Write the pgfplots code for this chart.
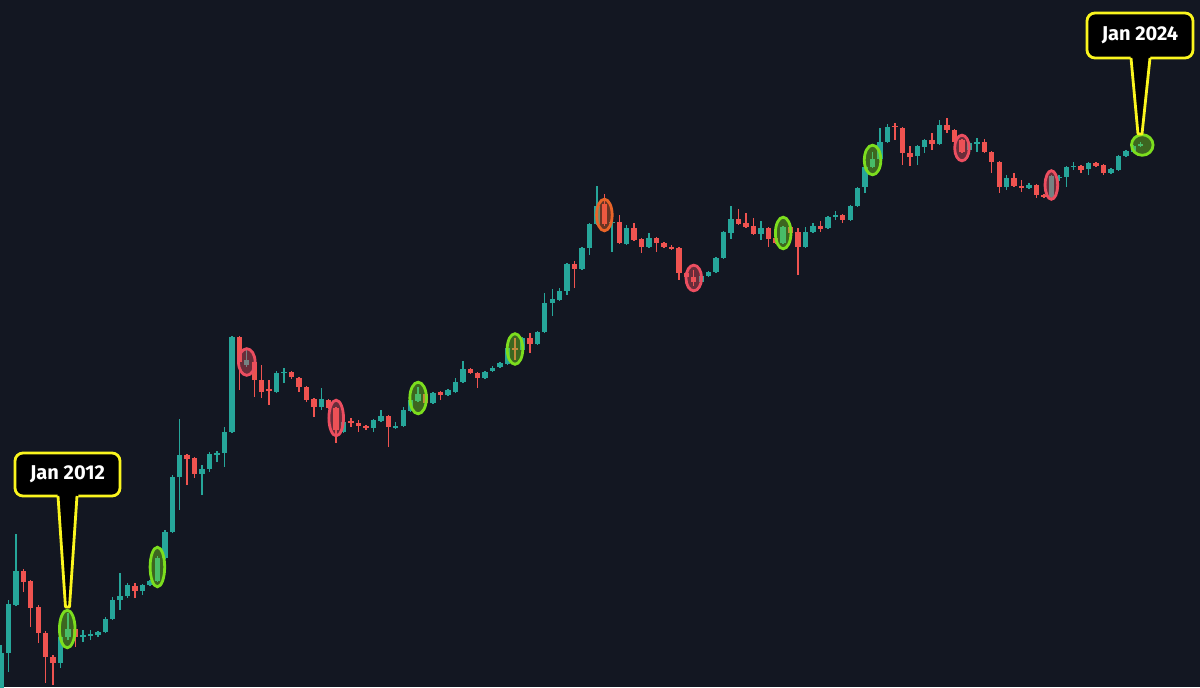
\documentclass[border=0pt]{standalone}
\usepackage{pgfplots}
\pgfplotsset{compat=1.18}
\usepackage{pgfplotstable}
\usepackage{fontspec}
\setmainfont{Fira Sans}
\definecolor{bgc}{HTML}{131722}
\definecolor{upc}{HTML}{26A69A}
\definecolor{dnc}{HTML}{EF5350}
\definecolor{gcol}{RGB}{124,222,30}
\definecolor{rcol}{RGB}{236,78,96}
\definecolor{ocol}{RGB}{232,100,40}
\definecolor{ycol}{RGB}{250,245,30}

\pgfdeclareplotmark{ell}{%
  \pgfpathellipse{\pgfpointorigin}{\pgfpoint{\ew pt}{0pt}}{\pgfpoint{0pt}{\eh pt}}%
  \pgfusepathqfillstroke}

% month index (0 = Jan 2012), open, high, low, close
\pgfplotstableread{
i o h l c
-9 -13 42 -13 34
-8 34 87 15 83
-7 82 153 81 116
-1 24 52 19 50
0 50 74 47 58
2 50 57 45 52
3 51 57 47 53
4 52 56 50 55
5 55 70 54 68
6 68 90 67 87
7 87 114 77 91
8 91 104 89 102
10 96 103 92 102
11 102 107 101 106
12 106 131 105 129
13 129 157 128 155
14 155 212 154 210
15 210 268 177 232
18 213 222 192 218
19 218 235 215 233
20 232 236 225 234
21 234 260 220 255
22 255 351 254 350
24 322 339 320 327
28 295 316 294 314
29 314 319 304 315
34 280 299 277 288
37 255 266 254 265
41 259 268 255 267
42 266 277 265 271
44 259 265 258 261
45 261 280 260 277
46 276 288 275 287
47 286 300 285 293
49 284 295 283 294
51 292 298 291 297
52 295 309 294 305
53 305 326 304 318
56 309 316 308 315
57 316 321 315 319
58 320 325 319 324
59 323 341 322 339
61 337 350 336 349
63 343 356 342 355
64 355 394 354 384
65 384 398 371 388
66 387 399 386 396
67 396 424 392 423
69 418 440 417 439
70 439 464 432 463
71 463 501 462 481
73 464 467 435 465
75 443 462 442 459
78 440 454 439 449
85 405 412 404 411
86 411 416 410 415
87 415 430 414 429
88 429 456 428 455
89 454 481 448 468
93 453 466 447 459
96 444 461 443 460
99 440 460 439 455
100 455 464 454 461
102 459 471 458 470
103 470 476 467 472
105 467 482 466 481
106 481 500 480 499
107 500 521 494 520
108 520 535 519 528
109 528 559 527 545
110 545 563 544 560
114 531 542 522 541
115 540 548 534 547
117 543 567 542 562
121 537 545 536 544
122 543 549 535 545
126 500 512 497 509
129 499 504 498 502
132 490 512 489 511
133 509 512 506 510
134 510 521 500 520
135 520 525 517 521
137 518 525 512 524
140 514 519 513 518
141 517 532 516 531
142 531 537 530 536
143 535 542 534 541
144 541 545 540 543
}\upData

\pgfplotstableread{
i o h l c
-6 116 118 95 105
-5 106 107 60 79
-4 80 82 44 54
-3 54 56 4 30
-2 30 32 2 24
1 58 60 40 50
9 101 104 89 96
16 232 233 202 228
17 229 230 209 213
23 350 351 297 325
25 325 326 290 307
26 307 322 289 295
27 298 307 282 296
30 315 316 308 310
31 309 310 295 300
32 300 301 285 287
33 288 289 270 280
35 287 288 278 279
36 279 280 244 257
38 266 269 260 264
39 264 267 255 261
40 261 262 257 259
43 271 272 240 260
48 293 294 283 284
50 295 296 287 292
54 318 319 313 314
55 314 315 299 309
60 339 349 327 337
62 349 354 334 343
68 423 426 399 418
72 483 493 461 463
74 465 472 443 444
76 459 464 446 447
77 448 449 434 440
79 449 450 435 444
80 444 445 439 440
81 440 442 437 438
82 439 440 407 414
83 414 415 408 410
84 410 417 401 405
90 468 478 462 463
91 464 474 459 460
92 461 469 452 453
94 459 460 440 448
95 449 450 443 444
97 460 461 453 454
98 455 459 412 440
101 461 466 455 458
104 472 473 464 467
111 561 564 547 560
112 559 560 522 534
113 534 541 521 530
116 547 554 537 543
118 562 569 554 557
119 557 558 544 545
120 547 548 534 535
123 545 548 534 535
124 535 536 514 525
125 525 526 494 500
127 509 514 500 501
128 501 507 495 499
130 502 503 489 492
131 492 493 489 490
136 521 522 514 517
138 524 525 520 521
139 522 523 512 514
}\dnData

% highlighted January candles: index, centre, half-width, half-height (pt)
\pgfplotstableread{
i v rx ry
-0.1 58 3.9 9.4
12 120 3.65 9.9
47 289 4.15 7.9
60 338 3.9 7.65
96 454 3.9 7.9
108 527 4.15 7.4
144.2 542 5.4 5.15
}\greenEll
\pgfplotstableread{
i v rx ry
24 325 4.15 6.65
36 269 3.65 8.9
84 409 3.9 6.4
120 539 3.65 6.4
132 502 3.15 7.15
}\redEll
\pgfplotstableread{
i v rx ry
72 472 3.9 7.9
}\orangeEll

\pgfplotsset{
  wick/.style={draw=none, mark=none, forget plot,
    error bars/.cd, y dir=plus, y explicit, error mark=none,
    error bar style={draw=#1, line width=0.7pt}},
  body/.style={draw=none, mark=none, forget plot,
    error bars/.cd, y dir=plus, y explicit, error mark=none,
    error bar style={draw=#1, line width=2.7pt}},
  hl/.style={scatter, only marks, mark=ell, forget plot,
    visualization depends on={\thisrow{rx} \as \ew},
    visualization depends on={\thisrow{ry} \as \eh},
    scatter/use mapped color={draw=#1, fill=#1, fill opacity=0.4},
    mark options={line width=1.4pt}},
}

\begin{document}
\begin{tikzpicture}
\fill[bgc] (0,0) rectangle (600pt,343.5pt);
\begin{axis}[
  at={(0,0)}, anchor=south west,
  scale only axis, width=600pt, height=343.5pt,
  xmin=-9.128, xmax=151.95, ymin=0, ymax=687,
  axis line style={draw=none},
  xtick=\empty, ytick=\empty,
  axis background/.style={fill=bgc},
]
\addplot[wick=upc] table[x=i, y=l, y error plus expr=\thisrow{h}-\thisrow{l}] {\upData};
\addplot[body=upc] table[x=i, y=o, y error plus expr=\thisrow{c}-\thisrow{o}] {\upData};
\addplot[wick=dnc] table[x=i, y=l, y error plus expr=\thisrow{h}-\thisrow{l}] {\dnData};
\addplot[body=dnc] table[x=i, y=c, y error plus expr=\thisrow{o}-\thisrow{c}] {\dnData};

\addplot[hl=gcol] table[x=i, y=v] {\greenEll};
\addplot[hl=rcol] table[x=i, y=v] {\redEll};
\addplot[hl=ocol] table[x=i, y=v] {\orangeEll};
\end{axis}

\begin{scope}[x=0.5pt, y=-0.5pt, yshift=343.5pt]
  % Jan 2012 callout
  \draw[ycol, line width=1.4pt, fill=black, rounded corners=4pt] (15,453) rectangle (120,496);
  \fill[black] (57.5,493) -- (78.5,493) -- (69.5,607) -- (65.5,607) -- cycle;
  \draw[ycol, line width=1.4pt, line join=round] (58,496) -- (65.5,607) -- (69.5,607) -- (77,496);
  \node[text=white, font=\fontsize{10}{12}\selectfont\bfseries] at (67.5,474.5) {Jan 2012};
  % Jan 2024 callout
  \draw[ycol, line width=1.4pt, fill=black, rounded corners=4pt] (1087,13) rectangle (1193,58);
  \fill[black] (1130.5,55) -- (1150.5,55) -- (1142,134) -- (1138,134) -- cycle;
  \draw[ycol, line width=1.4pt, line join=round] (1131,58) -- (1138,134) -- (1142,134) -- (1150,58);
  \node[text=white, font=\fontsize{10}{12}\selectfont\bfseries] at (1140,35.5) {Jan 2024};
\end{scope}
\end{tikzpicture}
\end{document}
